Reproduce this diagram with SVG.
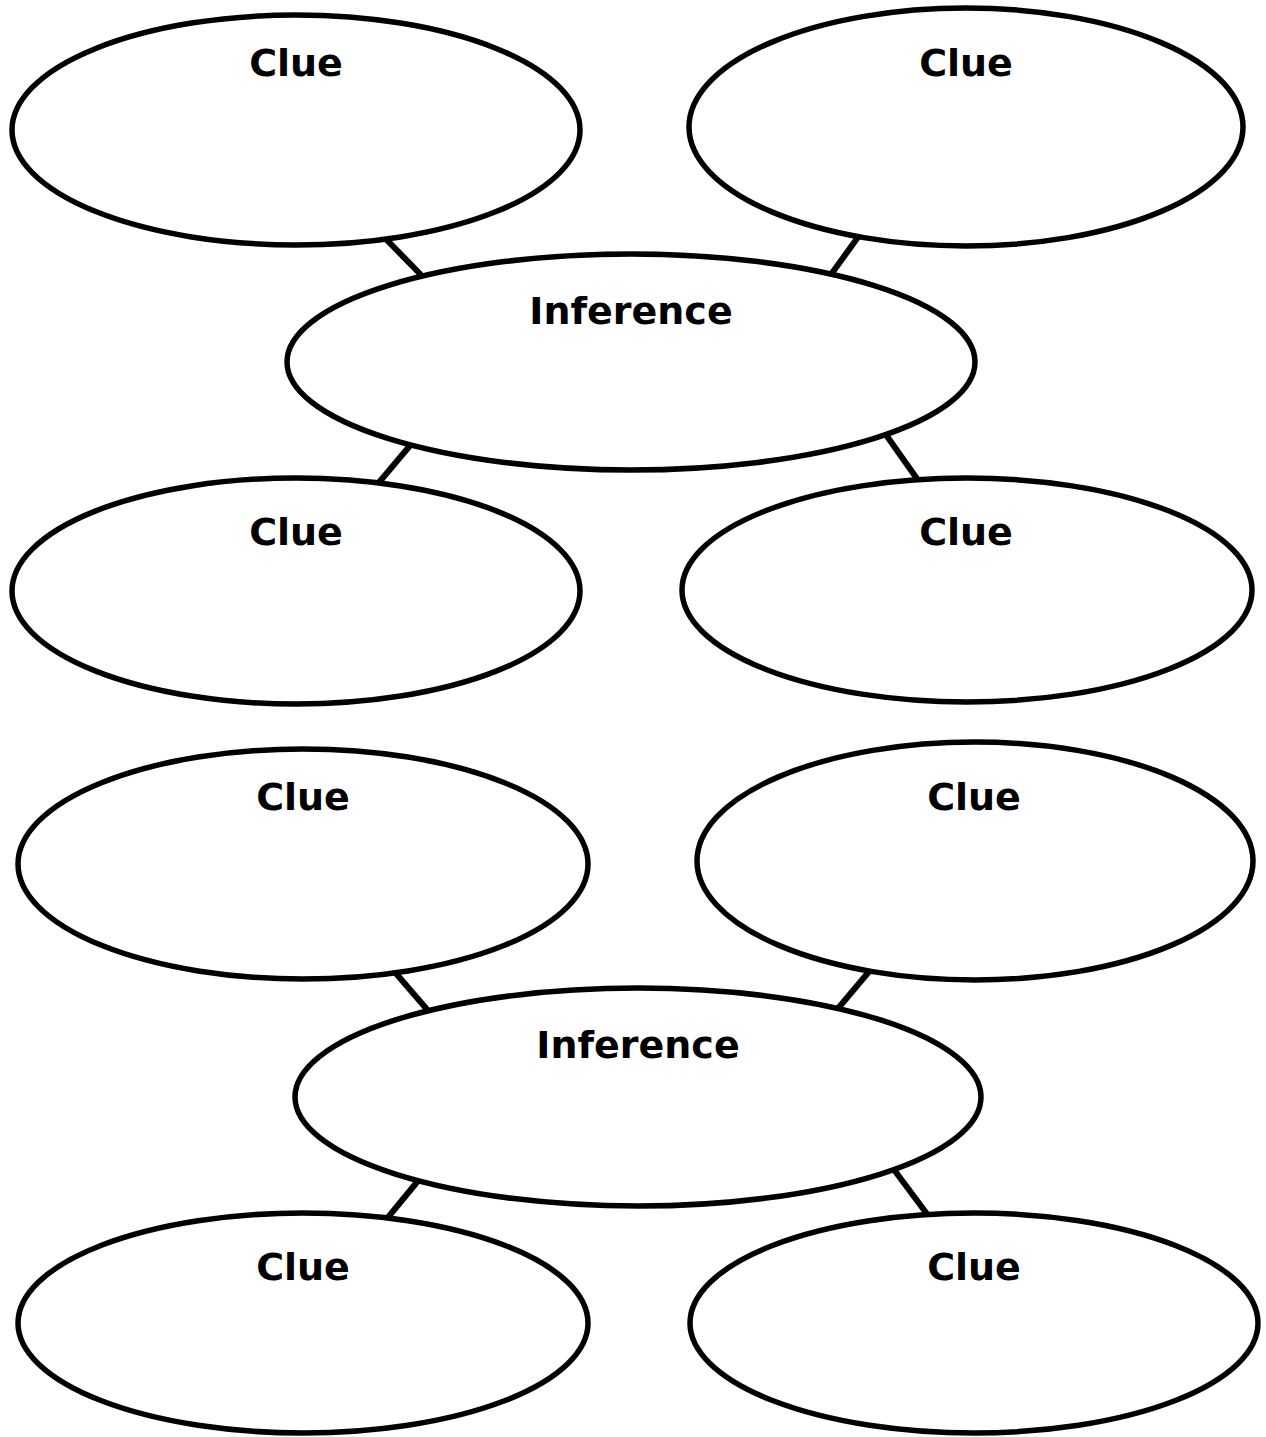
<svg xmlns="http://www.w3.org/2000/svg" width="1266" height="1437" viewBox="0 0 1266 1437">
<style>
.node ellipse{fill:#fff;stroke:#000;stroke-width:5.5}
.conn line{stroke:#000;stroke-width:6}
text{font-family:"DejaVu Sans","Liberation Sans",sans-serif;font-weight:bold;font-size:38px;fill:#000;text-anchor:middle}
</style>
<rect width="1266" height="1437" fill="#fff"/>
<g id="connectors" class="conn">
<line x1="383" y1="236" x2="426" y2="280"/>
<line x1="861" y1="233" x2="827" y2="280"/>
<line x1="413" y1="442" x2="376" y2="486"/>
<line x1="884" y1="432" x2="920" y2="483"/>
<line x1="393" y1="970" x2="431" y2="1014"/>
<line x1="872" y1="968" x2="835" y2="1012"/>
<line x1="422" y1="1176" x2="385" y2="1221"/>
<line x1="892" y1="1167" x2="930" y2="1218"/>
</g>
<g id="clue1" class="node"><ellipse cx="296" cy="130" rx="284" ry="115"/><text x="296" y="76">Clue</text></g>
<g id="clue2" class="node"><ellipse cx="966" cy="127" rx="277" ry="119"/><text x="966" y="76">Clue</text></g>
<g id="inference1" class="node"><ellipse cx="631" cy="362" rx="344" ry="108"/><text x="631" y="324">Inference</text></g>
<g id="clue3" class="node"><ellipse cx="296" cy="591" rx="284" ry="113"/><text x="296" y="545">Clue</text></g>
<g id="clue4" class="node"><ellipse cx="967" cy="590" rx="285" ry="112"/><text x="966" y="545">Clue</text></g>
<g id="clue5" class="node"><ellipse cx="303" cy="864" rx="285" ry="115"/><text x="303" y="810">Clue</text></g>
<g id="clue6" class="node"><ellipse cx="975" cy="861" rx="278" ry="119"/><text x="974" y="810">Clue</text></g>
<g id="inference2" class="node"><ellipse cx="638" cy="1097" rx="343" ry="109"/><text x="638" y="1058">Inference</text></g>
<g id="clue7" class="node"><ellipse cx="303" cy="1323" rx="285" ry="110"/><text x="303" y="1280">Clue</text></g>
<g id="clue8" class="node"><ellipse cx="974" cy="1323" rx="284" ry="110"/><text x="974" y="1280">Clue</text></g>
</svg>
